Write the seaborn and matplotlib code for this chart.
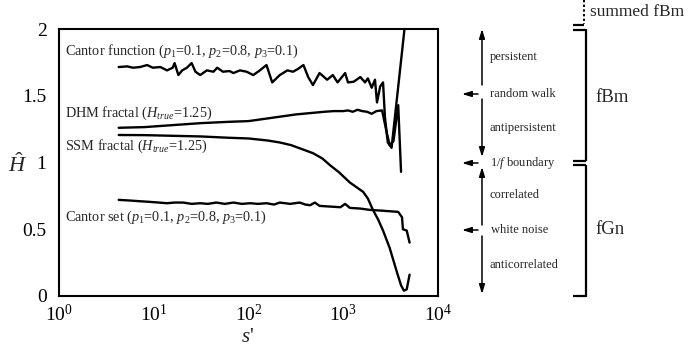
import numpy as np
import pandas as pd
import matplotlib
matplotlib.use("Agg")
import matplotlib.pyplot as plt
import seaborn as sns
from matplotlib.lines import Line2D
from matplotlib.patches import FancyArrowPatch
from matplotlib.ticker import LogFormatterMathtext, FixedLocator, NullLocator

# ---------------- data (x given as log10 s') ----------------
cantor_fn_log_s = [0.63, 0.72, 0.78, 0.855, 0.93, 0.99, 1.07, 1.14, 1.20, 1.22, 1.26, 1.30,
                   1.35, 1.40, 1.44, 1.49, 1.56, 1.63, 1.67, 1.73, 1.80, 1.84, 1.91, 1.98,
                   2.05, 2.12, 2.19, 2.25, 2.33, 2.41, 2.47, 2.52, 2.58, 2.63, 2.68, 2.75,
                   2.83, 2.89, 2.94, 3.02, 3.05, 3.11, 3.18, 3.23, 3.26, 3.30, 3.335, 3.356,
                   3.39, 3.42, 3.44, 3.47, 3.51, 3.70]
cantor_fn_H = [1.715, 1.72, 1.71, 1.715, 1.73, 1.71, 1.715, 1.69, 1.71, 1.745, 1.655, 1.69,
               1.71, 1.745, 1.68, 1.655, 1.69, 1.68, 1.71, 1.68, 1.685, 1.67, 1.69, 1.68,
               1.655, 1.69, 1.73, 1.60, 1.655, 1.69, 1.68, 1.70, 1.73, 1.64, 1.58, 1.67,
               1.62, 1.655, 1.60, 1.67, 1.60, 1.605, 1.64, 1.60, 1.63, 1.56, 1.62, 1.45,
               1.57, 1.60, 1.34, 1.15, 1.11, 2.35]

dhm_log_s = [0.63, 0.9, 1.2, 1.5, 1.8, 2.0, 2.2, 2.35, 2.5, 2.65, 2.8, 2.9, 3.0, 3.05,
             3.1, 3.15, 3.2, 3.25, 3.3, 3.35, 3.41, 3.46, 3.49, 3.53, 3.58, 3.61]
dhm_H = [1.26, 1.265, 1.28, 1.295, 1.305, 1.31, 1.33, 1.345, 1.36, 1.37, 1.38, 1.385,
         1.385, 1.39, 1.38, 1.395, 1.385, 1.38, 1.365, 1.385, 1.39, 1.22, 1.13, 1.16,
         1.43, 0.93]

ssm_log_s = [0.63, 0.9, 1.2, 1.5, 1.8, 2.0, 2.2, 2.33, 2.45, 2.565, 2.68, 2.78, 2.86,
             2.95, 3.07, 3.15, 3.21, 3.26, 3.31, 3.37, 3.42, 3.49, 3.57, 3.61, 3.64,
             3.67, 3.70]
ssm_H = [1.206, 1.205, 1.20, 1.195, 1.185, 1.18, 1.165, 1.15, 1.13, 1.10, 1.07, 1.03,
         0.98, 0.93, 0.85, 0.81, 0.78, 0.73, 0.65, 0.57, 0.49, 0.36, 0.17, 0.08, 0.04,
         0.05, 0.16]

cantor_set_log_s = [0.63, 0.75, 0.85, 0.96, 1.05, 1.14, 1.22, 1.31, 1.40, 1.49, 1.57,
                    1.66, 1.75, 1.84, 1.93, 2.02, 2.10, 2.19, 2.27, 2.33, 2.44, 2.54,
                    2.60, 2.65, 2.70, 2.75, 2.86, 2.97, 3.02, 3.07, 3.18, 3.28, 3.39,
                    3.49, 3.58, 3.62, 3.63, 3.67, 3.70]
cantor_set_H = [0.72, 0.715, 0.71, 0.705, 0.70, 0.695, 0.70, 0.70, 0.69, 0.695, 0.69,
                0.70, 0.69, 0.70, 0.69, 0.695, 0.69, 0.695, 0.685, 0.70, 0.69, 0.70,
                0.685, 0.68, 0.70, 0.675, 0.67, 0.665, 0.69, 0.66, 0.655, 0.645, 0.64,
                0.635, 0.63, 0.59, 0.50, 0.49, 0.40]

series_labels = [r"Cantor function ($p_1$=0.1, $p_2$=0.8, $p_3$=0.1)",
                 r"DHM fractal ($H_{true}$=1.25)",
                 r"SSM fractal ($H_{true}$=1.25)",
                 r"Cantor set ($p_1$=0.1, $p_2$=0.8, $p_3$=0.1)"]
x_ticks = [1, 10, 100, 1000, 10000]
y_ticks = [0, 0.5, 1, 1.5, 2]
y_tick_labels = ["0", "0.5", "1", "1.5", "2"]
side_labels = ["persistent", "random walk", "antipersistent", r"1/$f$ boundary",
               "correlated", "white noise", "anticorrelated"]
bracket_labels = ["summed fBm", "fBm", "fGn"]

# ---------------- style ----------------
sns.set_style("white")
plt.rcParams["font.family"] = ["Liberation Serif", "DejaVu Serif"]
plt.rcParams["mathtext.fontset"] = "custom"
plt.rcParams["mathtext.rm"] = "Liberation Serif"
plt.rcParams["mathtext.it"] = "Liberation Serif:italic"
plt.rcParams["mathtext.bf"] = "Liberation Serif:bold"

W, H = 695, 354
fig = plt.figure(figsize=(W / 100, H / 100), dpi=100)
ax = fig.add_axes([59 / W, 1 - 296 / H, (438 - 59) / W, (296 - 29) / H])

frames = []
for name, xs, ys in [("cf", cantor_fn_log_s, cantor_fn_H), ("dhm", dhm_log_s, dhm_H),
                     ("ssm", ssm_log_s, ssm_H), ("cs", cantor_set_log_s, cantor_set_H)]:
    frames.append(pd.DataFrame({"s": np.power(10.0, xs), "H": ys, "series": name}))
df = pd.concat(frames, ignore_index=True)

for name in ["cf", "dhm", "ssm", "cs"]:
    sns.lineplot(data=df[df.series == name], x="s", y="H", ax=ax, color="black",
                 lw=1.7, sort=False, estimator=None, legend=False)

ax.set_xscale("log")
ax.set_xlim(1, 10000)
ax.set_ylim(0, 2)
ax.xaxis.set_major_locator(FixedLocator(x_ticks))
ax.xaxis.set_minor_locator(NullLocator())
ax.xaxis.set_major_formatter(LogFormatterMathtext())
ax.set_yticks(y_ticks)
ax.set_yticklabels(y_tick_labels)
ax.tick_params(axis="both", length=0, labelsize=14, colors="black")
ax.tick_params(axis="x", pad=6)
ax.tick_params(axis="y", pad=9)
for sp in ax.spines.values():
    sp.set_linewidth(1.5)
    sp.set_color("black")
ax.set_xlabel("")
ax.set_ylabel("")

# series labels inside the axes (positions in pixels)
def fx(x):
    return x / W

def fy(y):
    return 1 - y / H

for lab, ypx in zip(series_labels, [51, 113, 146, 217]):
    fig.text(fx(65), fy(ypx), lab, fontsize=10.3, ha="left", va="center")

# axis labels
fig.text(fx(248), fy(338), r"$s$'", fontsize=15, ha="center", va="center")
fig.text(fx(18), fy(165), r"$\hat{H}$", fontsize=16, ha="center", va="center")

# right-hand annotations
def arrow(x0, y0, x1, y1):
    fig.add_artist(FancyArrowPatch((fx(x0), fy(y0)), (fx(x1), fy(y1)),
                                   transform=fig.transFigure, arrowstyle="-|>,head_length=0.55,head_width=0.17",
                                   mutation_scale=10, lw=1.1, color="black",
                                   shrinkA=0, shrinkB=0))

arrow(482, 85, 482, 29)
arrow(482, 99, 482, 157)
arrow(482, 225, 482, 167)
arrow(482, 236, 482, 294)
arrow(478, 94, 462, 94)
arrow(478, 163, 462, 163)
arrow(478, 230, 462, 230)

for lab, (xp, yp) in zip(side_labels, [(490, 57), (490, 94), (490, 128), (490, 163),
                                      (490, 195), (491, 230), (490, 265)]):
    fig.text(fx(xp), fy(yp), lab, fontsize=9, ha="left", va="center")

def seg(x0, y0, x1, y1, ls="-", lw=1.6):
    fig.add_artist(Line2D([fx(x0), fx(x1)], [fy(y0), fy(y1)], transform=fig.transFigure,
                          color="black", lw=lw, ls=ls, solid_capstyle="butt"))

# summed fBm (dotted, open at top)
seg(583.5, 0, 583.5, 24, ls=(0, (1.2, 1.2)), lw=1.4)
seg(573, 25, 584, 25)
# fBm bracket
seg(573, 29.5, 586, 29.5)
seg(585.5, 29, 585.5, 161)
seg(573, 160.5, 586, 160.5)
# fGn bracket
seg(573, 165.5, 586, 165.5)
seg(585.5, 165, 585.5, 296.5)
seg(573, 296, 586, 296)

fig.text(fx(590), fy(12), bracket_labels[0], fontsize=12.5, ha="left", va="center")
fig.text(fx(595), fy(97), bracket_labels[1], fontsize=13.5, ha="left", va="center")
fig.text(fx(595), fy(230), bracket_labels[2], fontsize=13.5, ha="left", va="center")

fig.savefig("out.png", dpi=100)
